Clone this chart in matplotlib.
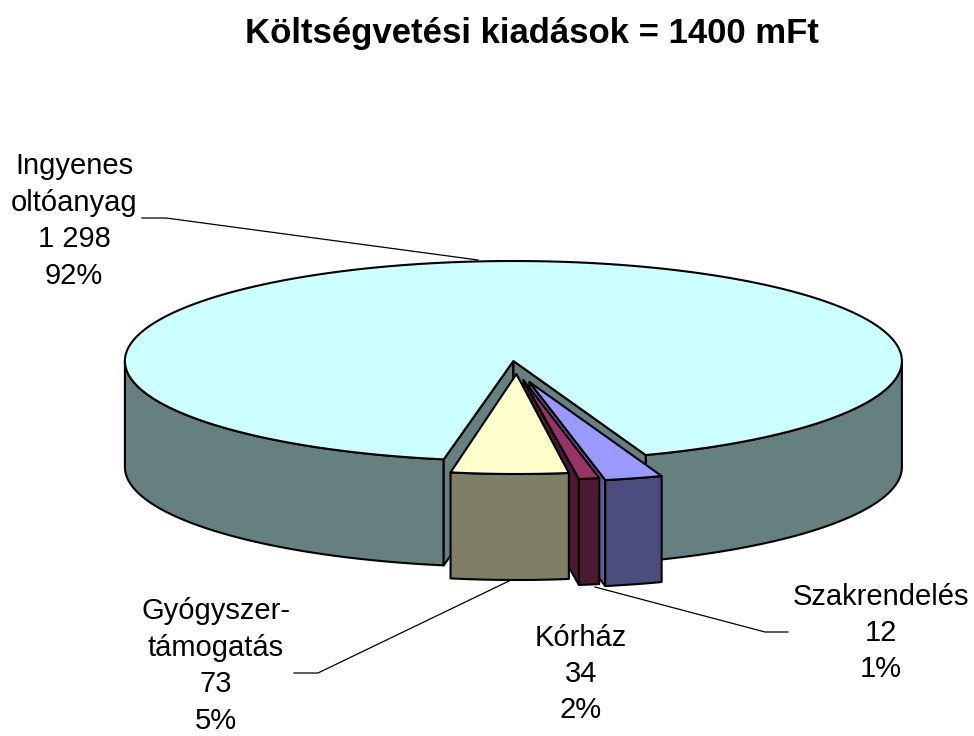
import numpy as np
import matplotlib
matplotlib.use("Agg")
import matplotlib.pyplot as plt
from matplotlib.patches import Polygon

plt.rcParams['font.family'] = ['Liberation Sans', 'DejaVu Sans']

# data, in the order excel walks round the pie (clockwise)
names = ["Kórház", "Szakrendelés", "Gyógyszer-\ntámogatás", "Ingyenes\noltóanyag"]
values = [34, 12, 73, 1298]
value_labels = ["34", "12", "73", "1 298"]
title = "Költségvetési kiadások = 1400 mFt"

colors = ["#9999FF", "#993366", "#FFFFCC", "#CCFFFF"]
side_colors = ["#4C4C7F", "#4C1933", "#7F7F66", "#667F7F"]
wall_colors = ["#5C5C99", "#4C1933", None, "#667F7F"]

# pie geometry in pixels
cx, cy = 513.4, 361
rx, ry = 388.5, 100
depth = 106
start_angle = 19.9   # deg from bottom, positive to the right
offsets = [(16, 21), (10, 19), (3, 13), (0, 0)]  # exploded slices
rx_scale = [1, 1, 0.945, 1]  # the yellow slice comes out a bit narrower in excel

label_pos = [(581, 674), (881, 633), (216, 666), (74, 221)]
leaders = [None,
           [(595, 587), (765, 632), (788, 632)],
           [(509, 581), (318, 673), (294, 673)],
           [(478, 260), (166, 218), (142, 218)]]


def arc(t1, t2, ox, oy, n=200, scale=1):
    t = np.radians(np.linspace(t1, t2, n))
    return np.column_stack([cx + ox + rx * scale * np.sin(t), cy + oy + ry * np.cos(t)])


def down(pts):
    return pts + np.array([0, depth])


fig = plt.figure(figsize=(9.74, 7.36), dpi=100)
ax = fig.add_axes([0, 0, 1, 1])
ax.set_xlim(0, 974)
ax.set_ylim(736, 0)
ax.axis("off")

lw = 1.5
total = sum(values)
sweeps = [v / total * 360 for v in values]
ends = start_angle - np.concatenate([[0], np.cumsum(sweeps)])


def poly(pts, fc, z):
    ax.add_patch(Polygon(pts, closed=True, fc=fc, ec="black", lw=lw, zorder=z, joinstyle="round"))


# big slice first, everything else sits in front of it
t1, t2 = ends[3], ends[4]   # t1 = left edge, t2 = right edge (going over the top)
ox, oy = offsets[3]
apex = np.array([[cx + ox, cy + oy]])
for a, b in [(-90, t1), (ends[0], 90)]:
    top = arc(a, b, ox, oy)
    poly(np.vstack([top, down(top)[::-1]]), side_colors[3], 1)
for e in (t1, ends[0]):
    edge = arc(e, e, ox, oy, 1)
    poly(np.vstack([apex, edge, down(edge), down(apex)]), wall_colors[3], 2)
poly(np.vstack([apex, arc(t1, t2, ox, oy)]), colors[3], 3)

# small slices back to front: kórház, szakrendelés, gyógyszer
for i in range(3):
    right, left = ends[i], ends[i + 1]
    ox, oy = offsets[i]
    z = 4 + i
    apex = np.array([[cx + ox, cy + oy]])
    if wall_colors[i]:
        edge = arc(left, left, ox, oy, 1, rx_scale[i])
        poly(np.vstack([apex, edge, down(edge), down(apex)]), wall_colors[i], z)
    top = arc(left, right, ox, oy, 60, rx_scale[i])
    poly(np.vstack([top, down(top)[::-1]]), side_colors[i], z)
    poly(np.vstack([apex, top]), colors[i], z)

# labels
for i, name in enumerate(names):
    pct = round(values[i] / total * 100)
    x, y = label_pos[i]
    ax.text(x, y, f"{name}\n{value_labels[i]}\n{pct}%", ha="center", va="center",
            fontsize=21, linespacing=1.38, zorder=10)
    if leaders[i]:
        xs, ys = zip(*leaders[i])
        ax.plot(xs, ys, color="black", lw=0.9, zorder=0.5)

ax.text(531.5, 33, title, ha="center", va="center", fontsize=25, fontweight="bold")

fig.savefig("out.png", dpi=100)
